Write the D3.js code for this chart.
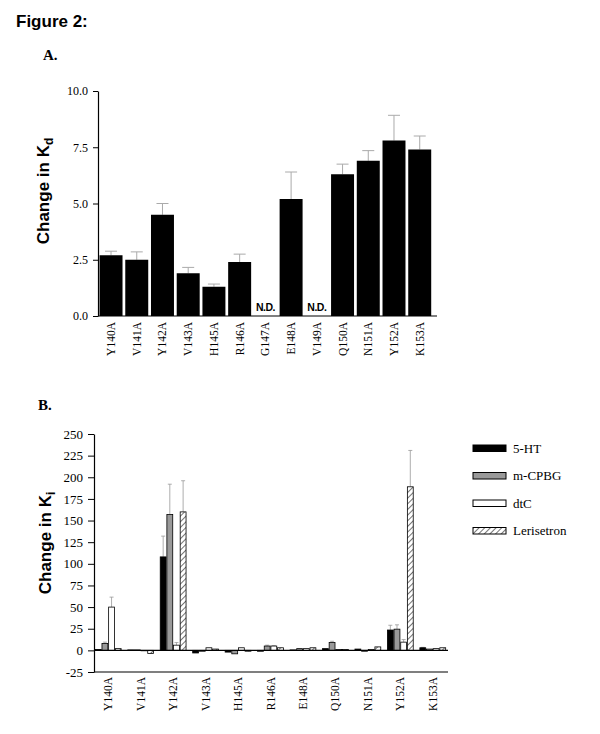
<!DOCTYPE html>
<html><head><meta charset="utf-8">
<script src="https://cdn.jsdelivr.net/npm/d3@7"></script>
<style>
body{margin:0;background:#fff;}
svg{display:block;}
</style></head>
<body>
<script>
// ---- Data: panel A ----
const catsA = ["Y140A","V141A","Y142A","V143A","H145A","R146A","G147A","E148A","V149A","Q150A","N151A","Y152A","K153A"];
const valsA = [2.7, 2.5, 4.5, 1.9, 1.3, 2.4, null, 5.2, null, 6.3, 6.9, 7.8, 7.4];
const errA  = [0.18, 0.35, 0.5, 0.26, 0.12, 0.35, null, 1.2, null, 0.45, 0.45, 1.12, 0.6];
const ticksA = [0, 2.5, 5, 7.5, 10];

// ---- Data: panel B ----
const catsB = ["Y140A","V141A","Y142A","V143A","H145A","R146A","E148A","Q150A","N151A","Y152A","K153A"];
const seriesB = ["5-HT","m-CPBG","dtC","Lerisetron"];
const htB   = [1, 0.5, 108, -3, -2, -1, 0.5, 2, 1.5, 23.5, 3];
const cpbgB = [8, 0.5, 157, -1, -4, 5, 2, 9, -1, 24.5, 1.5];
const dtcB  = [50, -0.5, 6, 3, 3, 5, 2, 1, 1, 9.5, 2];
const lerB  = [2, -3.5, 160, 1.5, -1, 3, 3, 1, 4, 189, 3];
const htErr   = [0, 0, 24, 0, 0, 0, 0, 0, 0, 5.5, 0.5];
const cpbgErr = [1.5, 0, 35, 0, 0, 1, 0, 1.5, 0, 5, 0];
const dtcErr  = [11.5, 0, 3, 0, 0, 0.5, 0, 0, 0, 3, 0];
const lerErr  = [0, 0, 36, 0, 0, 0, 0, 0, 0, 42, 0];
const ticksB = [-25, 0, 25, 50, 75, 100, 125, 150, 175, 200, 225, 250];

const W = 600, H = 734;
const serif = "'Liberation Serif', 'Times New Roman', serif";
const sans = "'Liberation Sans', Arial, sans-serif";

const svg = d3.select("body").append("svg").attr("width", W).attr("height", H);

const defs = svg.append("defs");
const pat = defs.append("pattern").attr("id","hatch").attr("patternUnits","userSpaceOnUse")
  .attr("width",4).attr("height",4).attr("patternTransform","rotate(45)");
pat.append("rect").attr("width",4).attr("height",4).attr("fill","#fff");
pat.append("line").attr("x1",0).attr("y1",0).attr("x2",0).attr("y2",4).attr("stroke","#000").attr("stroke-width",1.1);

svg.append("text").attr("x",16).attr("y",27).attr("font-family",sans).attr("font-weight","bold")
  .attr("font-size",17).text("Figure 2:");
svg.append("text").attr("x",43).attr("y",60).attr("font-family",serif).attr("font-weight","bold")
  .attr("font-size",15).text("A.");
svg.append("text").attr("x",38).attr("y",410).attr("font-family",serif).attr("font-weight","bold")
  .attr("font-size",15).text("B.");

// ---------------- Panel A ----------------
const xA = d3.scaleBand().domain(catsA).range([98, 98 + 13*25.75]).paddingInner(0.107).paddingOuter(0.06);
const yA = d3.scaleLinear().domain([0, 10]).range([316, 91]);

const gA = svg.append("g");
const dataA = catsA.map((c,i)=>({c, v: valsA[i], e: errA[i]})).filter(d=>d.v!=null);
gA.selectAll("line.ev").data(dataA).join("line")
  .attr("x1",d=>xA(d.c)+xA.bandwidth()/2).attr("x2",d=>xA(d.c)+xA.bandwidth()/2)
  .attr("y1",d=>yA(d.v)).attr("y2",d=>yA(d.v+d.e)).attr("stroke","#aaa").attr("stroke-width",1);
gA.selectAll("line.ec").data(dataA).join("line")
  .attr("x1",d=>xA(d.c)+xA.bandwidth()/2-6).attr("x2",d=>xA(d.c)+xA.bandwidth()/2+6)
  .attr("y1",d=>yA(d.v+d.e)).attr("y2",d=>yA(d.v+d.e)).attr("stroke","#aaa").attr("stroke-width",1);
gA.selectAll("rect.barA").data(dataA)
  .join("rect").attr("x",d=>xA(d.c)).attr("width",xA.bandwidth())
  .attr("y",d=>yA(d.v)).attr("height",d=>yA(0)-yA(d.v)).attr("fill","#000");
gA.selectAll("text.nd").data(catsA.filter((c,i)=>valsA[i]==null))
  .join("text").attr("x",d=>xA(d)+xA.bandwidth()/2).attr("y",311).attr("text-anchor","middle")
  .attr("font-family",sans).attr("font-weight","bold").attr("font-size",10.5).attr("letter-spacing","-0.5")
  .text("N.D.");

const axA = gA.append("g").attr("transform","translate(98,0)")
  .call(d3.axisLeft(yA).tickValues(ticksA).tickFormat(d3.format(".1f")).tickSize(5).tickSizeOuter(0));
axA.attr("font-family", null);
axA.selectAll("text").style("font-family",serif).style("font-size","12px").attr("fill","#000").attr("dx","-2");
axA.select(".domain").attr("stroke","#000").attr("stroke-width",1.2);
gA.append("line").attr("x1",98).attr("x2",437).attr("y1",316).attr("y2",316).attr("stroke","#000").attr("stroke-width",1.2);
gA.selectAll("text.xlA").data(catsA).join("text")
  .attr("transform",d=>`translate(${xA(d)+xA.bandwidth()/2+4},322) rotate(-90)`)
  .attr("text-anchor","end").attr("font-family",serif).attr("font-size",11.5).text(d=>d);
const ylA = gA.append("text").attr("transform","translate(49,191) rotate(-90)").attr("text-anchor","middle")
  .attr("font-family",sans).attr("font-weight","bold").attr("font-size",17);
ylA.append("tspan").text("Change in K");
ylA.append("tspan").attr("font-size",12).attr("dy",4).text("d");

// ---------------- Panel B ----------------
const valuesB = [htB, cpbgB, dtcB, lerB];
const errsB = [htErr, cpbgErr, dtcErr, lerErr];
const fills = ["#000", "#999", "#fff", "url(#hatch)"];
const xB = d3.scaleBand().domain(catsB).range([92, 449]).paddingInner(0.18).paddingOuter(0.09);
const xS = d3.scaleBand().domain(seriesB).range([0, xB.bandwidth()]);
const yB = d3.scaleLinear().domain([-25, 250]).range([672, 434]);

const gB = svg.append("g");
const flat = [];
catsB.forEach((c,i)=>seriesB.forEach((s,j)=>flat.push({c, s, j, v: valuesB[j][i], e: errsB[j][i]})));
const errData = flat.filter(d=>d.e>0);
gB.selectAll("line.evB").data(errData).join("line")
  .attr("x1",d=>xB(d.c)+xS(d.s)+xS.bandwidth()/2).attr("x2",d=>xB(d.c)+xS(d.s)+xS.bandwidth()/2)
  .attr("y1",d=>yB(d.v)).attr("y2",d=>yB(d.v+d.e)).attr("stroke","#999").attr("stroke-width",0.8);
gB.selectAll("line.ecB").data(errData).join("line")
  .attr("x1",d=>xB(d.c)+xS(d.s)+xS.bandwidth()/2-2).attr("x2",d=>xB(d.c)+xS(d.s)+xS.bandwidth()/2+2)
  .attr("y1",d=>yB(d.v+d.e)).attr("y2",d=>yB(d.v+d.e)).attr("stroke","#999").attr("stroke-width",0.8);
gB.selectAll("rect.barB").data(flat).join("rect")
  .attr("x",d=>xB(d.c)+xS(d.s)+0.4).attr("width",xS.bandwidth()-0.8)
  .attr("y",d=>yB(Math.max(0,d.v))).attr("height",d=>Math.abs(yB(d.v)-yB(0)))
  .attr("fill",d=>fills[d.j]).attr("stroke","#000").attr("stroke-width",0.8);

const axB = gB.append("g").attr("transform","translate(94,0)")
  .call(d3.axisLeft(yB).tickValues(ticksB).tickFormat(d=>String(d)).tickSize(6).tickSizeOuter(0));
axB.attr("font-family", null);
axB.selectAll("text").style("font-family",serif).style("font-size","13px").attr("fill","#000").attr("dx","-2");
axB.select(".domain").attr("stroke","#000").attr("stroke-width",1.2);
gB.append("line").attr("x1",94).attr("x2",448).attr("y1",yB(0)).attr("y2",yB(0)).attr("stroke","#000").attr("stroke-width",1.2);
gB.append("line").attr("x1",94).attr("x2",448).attr("y1",yB(-25)).attr("y2",yB(-25)).attr("stroke","#000").attr("stroke-width",1.2);
gB.selectAll("text.xlB").data(catsB).join("text")
  .attr("transform",d=>`translate(${xB(d)+xB.bandwidth()/2+4},677) rotate(-90)`)
  .attr("text-anchor","end").attr("font-family",serif).attr("font-size",11.5).text(d=>d);
const ylB = gB.append("text").attr("transform","translate(51,543) rotate(-90)").attr("text-anchor","middle")
  .attr("font-family",sans).attr("font-weight","bold").attr("font-size",17);
ylB.append("tspan").text("Change in K");
ylB.append("tspan").attr("font-size",12).attr("dy",4).text("i");

// legend
const lg = svg.append("g").attr("transform","translate(473,445)");
seriesB.forEach((s,j)=>{
  const row = lg.append("g").attr("transform",`translate(0,${j*27.5})`);
  row.append("rect").attr("x",0).attr("y",0).attr("width",33).attr("height",6.5)
    .attr("fill",fills[j]).attr("stroke","#000").attr("stroke-width",1);
  row.append("text").attr("x",40).attr("y",7.5).attr("font-family",serif).attr("font-size",13).text(s);
});
</script>
</body></html>
